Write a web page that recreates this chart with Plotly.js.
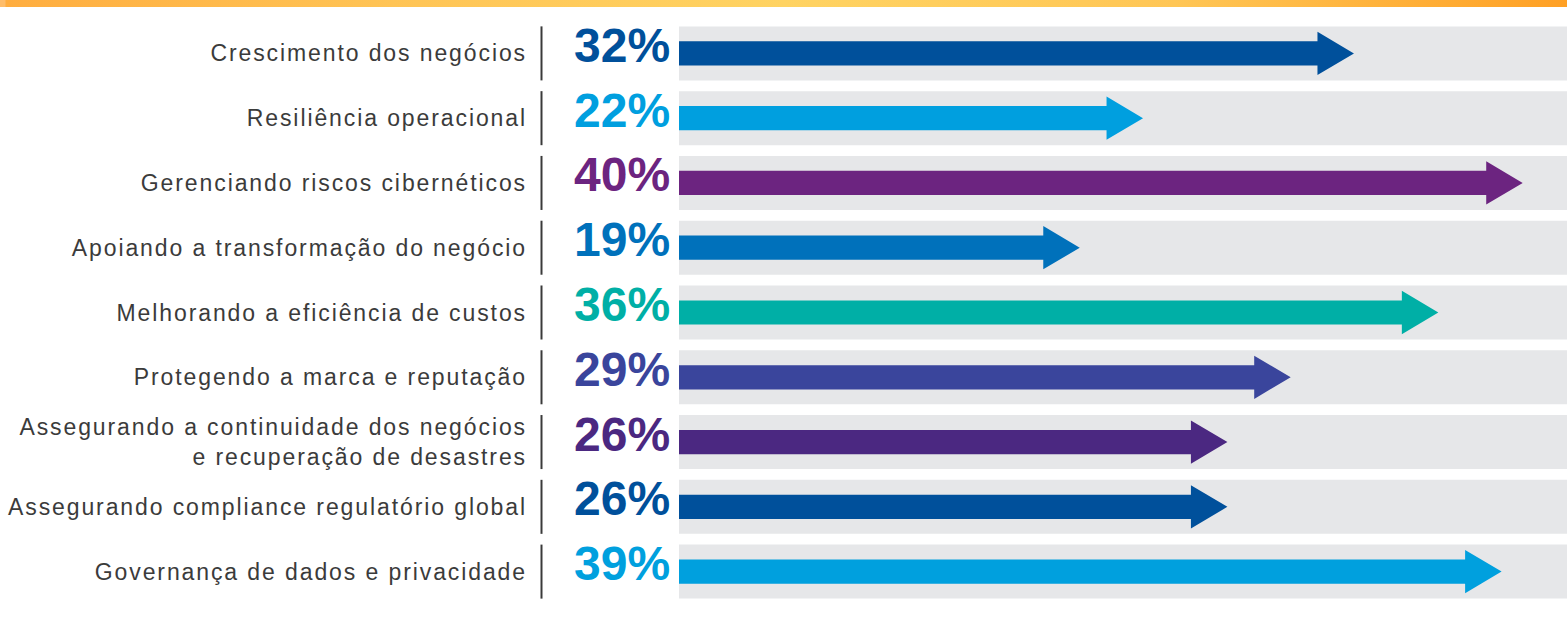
<!DOCTYPE html>
<html>
<head>
<meta charset="utf-8">
<script src="https://cdn.plot.ly/plotly-3.0.1.min.js"></script>
<style>
  html, body { margin: 0; padding: 0; background: #ffffff; }
  #wrap { position: relative; width: 1567px; height: 621px; overflow: hidden; }
  #topbar { position: absolute; left: 0; top: 0; width: 1567px; height: 7px; z-index: 5;
    background: linear-gradient(90deg, #ffbd6a 0px, #ffbd6a 5px, #ffad3f 6px, #ffc455 25%, #ffd362 50%, #ffc655 75%, #ffa024 100%); }
  #chart { position: absolute; left: 0; top: 0; width: 1567px; height: 621px; }
  .ytick text { letter-spacing: 1.9px; }
</style>
</head>
<body>
<div id="wrap">
  <div id="chart"></div>
  <div id="topbar"></div>
</div>
<script>
// ---- data ----
const categories = [
  "Crescimento dos negócios",
  "Resiliência operacional",
  "Gerenciando riscos cibernéticos",
  "Apoiando a transformação do negócio",
  "Melhorando a eficiência de custos",
  "Protegendo a marca e reputação",
  "Assegurando a continuidade dos negócios<br>e recuperação de desastres",
  "Assegurando compliance regulatório global",
  "Governança de dados e privacidade"
];
const values = [32, 22, 40, 19, 36, 29, 26, 26, 39];
const colors = ["#00509b", "#009fdf", "#6c2480", "#0071bb", "#00afa6", "#3a459c", "#4b2881", "#00509b", "#00a0de"];
const pctLabels = values.map(v => v + "%");

// ---- geometry (style) ----
const xMax = 42.1;
const bandHalf = 0.417;
const bodyHalf = 0.187;
const headHalf = 0.334;
const headLen = 1.73;
const sepX = (541.5 - 679) / 888;

const traces = values.map((v, i) => ({
  type: "scatter",
  mode: "lines",
  x: [0, v - headLen, v - headLen, v, v - headLen, v - headLen, 0, 0],
  y: [i - bodyHalf, i - bodyHalf, i - headHalf, i, i + headHalf, i + bodyHalf, i + bodyHalf, i - bodyHalf],
  fill: "toself",
  fillcolor: colors[i],
  line: { width: 0, color: colors[i] },
  hoverinfo: "skip",
  showlegend: false
}));

const shapes = [];
categories.forEach((c, i) => {
  shapes.push({
    type: "rect", xref: "paper", yref: "y", x0: 0, x1: 1,
    y0: i - bandHalf, y1: i + bandHalf,
    fillcolor: "#e6e7e9", line: { width: 0 }, layer: "below"
  });
  shapes.push({
    type: "line", xref: "paper", yref: "y", x0: sepX, x1: sepX,
    y0: i - bandHalf, y1: i + bandHalf,
    line: { color: "#3a3a3a", width: 2 }
  });
});

const annotations = values.map((v, i) => ({
  xref: "x", yref: "y", x: 0, y: i,
  xanchor: "right", yanchor: "middle",
  xshift: -7, yshift: 8,
  text: pctLabels[i], showarrow: false,
  font: { family: "Liberation Sans, Arial, sans-serif", size: 48, color: colors[i], weight: "bold" }
}));

const layout = {
  width: 1567, height: 621,
  margin: { l: 679, r: 0, t: 21, b: 17, pad: 0 },
  paper_bgcolor: "#ffffff", plot_bgcolor: "#ffffff",
  showlegend: false,
  xaxis: { range: [0, xMax], visible: false, fixedrange: true },
  yaxis: {
    range: [8.5, -0.5],
    tickmode: "array",
    tickvals: categories.map((c, i) => i),
    ticktext: categories,
    showgrid: false, zeroline: false, showline: false, ticks: "",
    ticklabelstandoff: 151,
    tickfont: { family: "Liberation Sans, Arial, sans-serif", size: 23, color: "#3b3b3b" },
    fixedrange: true
  },
  shapes: shapes,
  annotations: annotations
};

Plotly.newPlot("chart", traces, layout, { displayModeBar: false, staticPlot: true });
</script>
</body>
</html>
